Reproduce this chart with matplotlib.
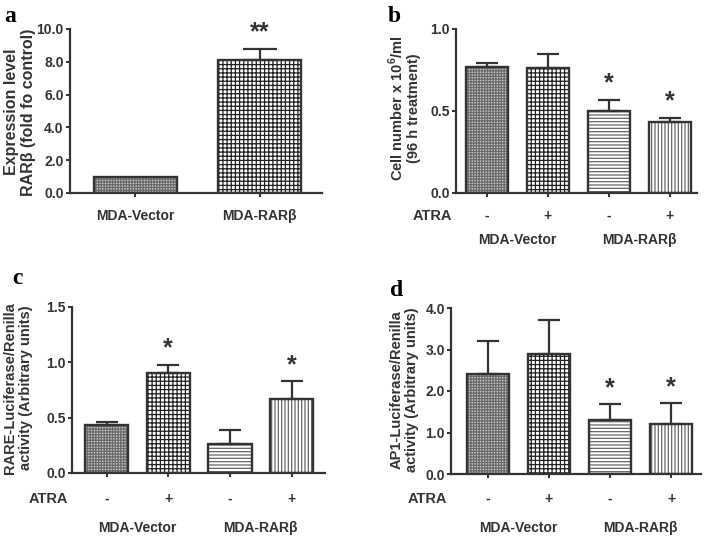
import numpy as np
import matplotlib
matplotlib.use("Agg")
import matplotlib.pyplot as plt

plt.rcParams['font.family'] = ['Liberation Sans', 'DejaVu Sans']
plt.rcParams['font.weight'] = 'bold'
plt.rcParams['mathtext.fontset'] = 'custom'
plt.rcParams['mathtext.rm'] = 'Liberation Sans:bold'
plt.rcParams['mathtext.bf'] = 'Liberation Sans:bold'
plt.rcParams['hatch.linewidth'] = 0.9

# ---- data ----
a_groups = ["MDA-Vector", "MDA-RARβ"]
a_vals = [1.0, 8.1]
a_err = [0.0, 0.7]
a_stars = ["", "**"]

atra = ["-", "+", "-", "+"]
groups = ["MDA-Vector", "MDA-RARβ"]

b_vals = [0.77, 0.76, 0.50, 0.43]
b_err = [0.02, 0.09, 0.07, 0.03]
b_stars = ["", "", "*", "*"]

c_vals = [0.43, 0.90, 0.26, 0.67]
c_err = [0.03, 0.08, 0.13, 0.16]
c_stars = ["", "*", "", "*"]

d_vals = [2.40, 2.88, 1.30, 1.21]
d_err = [0.80, 0.82, 0.39, 0.50]
d_stars = ["", "", "*", "*"]

styles4 = ["fine", "check", "hline", "vline"]

TXT = "#333333"
HATCH = {
    "fine": ("#c8c8c8", "#6a6a6a", "++++++"),
    "check": ("white", "#222222", "++++"),
    "hline": ("white", "#666666", "-----"),
    "vline": ("white", "#666666", "|||||"),
}

W, H = 708, 538
fig = plt.figure(figsize=(W / 100, H / 100), dpi=100)


def px_axes(l, r, t, b):
    return fig.add_axes([l / W, 1 - b / H, (r - l) / W, (b - t) / H])


def style_axes(ax, ymax, yticks, xpos, xlim):
    ax.set_ylim(0, ymax)
    ax.set_xlim(*xlim)
    ax.set_yticks(yticks)
    ax.set_yticklabels([f"{v:.1f}" for v in yticks])
    ax.set_xticks(xpos)
    ax.set_xticklabels([])
    for s in ["top", "right"]:
        ax.spines[s].set_visible(False)
    for s in ["left", "bottom"]:
        ax.spines[s].set_linewidth(1.6)
        ax.spines[s].set_color(TXT)
    ax.tick_params(direction="out", length=3, width=1.4, color=TXT,
                   labelsize=10, labelcolor=TXT, pad=1.5)
    for lab in ax.get_yticklabels():
        lab.set_fontweight("bold")


def draw_bars(ax, vals, errs, kinds, width, capsize, stars):
    x = np.arange(len(vals))
    for xi, v, k in zip(x, vals, kinds):
        face, hc, hatch = HATCH[k]
        ax.bar(xi, v, width, color=face, edgecolor=hc, hatch=hatch, linewidth=0, zorder=2)
    ax.bar(x, vals, width, fill=False, edgecolor=TXT, linewidth=1.7, zorder=3)
    for xi, v, e in zip(x, vals, errs):
        if e > 0:
            ax.errorbar(xi, v, yerr=[[0], [e]], fmt="none", ecolor=TXT,
                        elinewidth=1.6, capsize=capsize, capthick=1.6, zorder=4)
    for xi, v, e, s in zip(x, vals, errs, stars):
        if s:
            ax.annotate(s, xy=(xi, v + e), xytext=(0, 6.5), textcoords="offset points",
                        ha="center", va="baseline", fontsize=18, color=TXT,
                        annotation_clip=False)
    return x


def row_labels(ax, labels, xs, off_pt, fs=10):
    for xi, t in zip(xs, labels):
        ax.annotate(t, xy=(xi, 0), xycoords=("data", "axes fraction"),
                    xytext=(0, -off_pt), textcoords="offset points",
                    ha="center", va="center", fontsize=fs, color=TXT,
                    annotation_clip=False)


def atra_label(ax, off_pt):
    ax.annotate("ATRA", xy=(0, 0), xycoords="axes fraction",
                xytext=(-3, -off_pt), textcoords="offset points",
                ha="right", va="center", fontsize=10.5, color=TXT)


def ylabel(px, py, text, fs):
    fig.text(px / W, 1 - py / H, text, rotation=90, ha="center", va="center",
             multialignment="center", fontsize=fs, color=TXT, linespacing=1.1)


def letter(px, py, t):
    fig.text(px / W, 1 - py / H, t, ha="left", va="center", fontsize=17,
             family="Liberation Serif", fontweight="bold", color="black")


# ---- panel a ----
ax = px_axes(70, 322, 29, 193)
x = draw_bars(ax, a_vals, a_err, ["fine", "check"], 0.667, 12, a_stars)
style_axes(ax, 10, [0, 2, 4, 6, 8, 10], x, (-0.526, 1.5))
row_labels(ax, a_groups, x, 16.5)
ylabel(20, 112, "Expression level\nRARβ (fold fo control)", 11.5)
letter(4, 16, "a")

# ---- panel b ----
ax = px_axes(456, 697, 29, 193)
x = draw_bars(ax, b_vals, b_err, styles4, 0.69, 8, b_stars)
style_axes(ax, 1.0, [0, 0.5, 1.0], x, (-0.51, 3.45))
row_labels(ax, atra, x, 16.5)
row_labels(ax, groups, [0.5, 2.5], 34)
atra_label(ax, 16.5)
ylabel(404, 108, "Cell number x 10$^{6}$/ml\n(96 h treatment)", 10.5)
letter(388, 17, "b")

# ---- panel c ----
ax = px_axes(72, 325, 307, 473)
x = draw_bars(ax, c_vals, c_err, styles4, 0.70, 8, c_stars)
style_axes(ax, 1.5, [0, 0.5, 1.0, 1.5], x, (-0.56, 3.54))
row_labels(ax, atra, x, 18.5)
row_labels(ax, groups, [0.5, 2.5], 39.5)
atra_label(ax, 18.5)
ylabel(18, 388, "RARE-Luciferase/Renilla\nactivity (Arbitrary units)", 10.5)
letter(12, 279, "c")

# ---- panel d ----
ax = px_axes(451, 701, 308, 474)
x = draw_bars(ax, d_vals, d_err, styles4, 0.69, 8, d_stars)
style_axes(ax, 4.0, [0, 1, 2, 3, 4], x, (-0.6, 3.49))
row_labels(ax, atra, x, 18)
row_labels(ax, groups, [0.5, 2.5], 39)
atra_label(ax, 18)
ylabel(404, 390, "AP1-Luciferase/Renilla\nactivity (Arbitrary units)", 10.5)
letter(390, 290, "d")

fig.savefig("out.png", dpi=100)
